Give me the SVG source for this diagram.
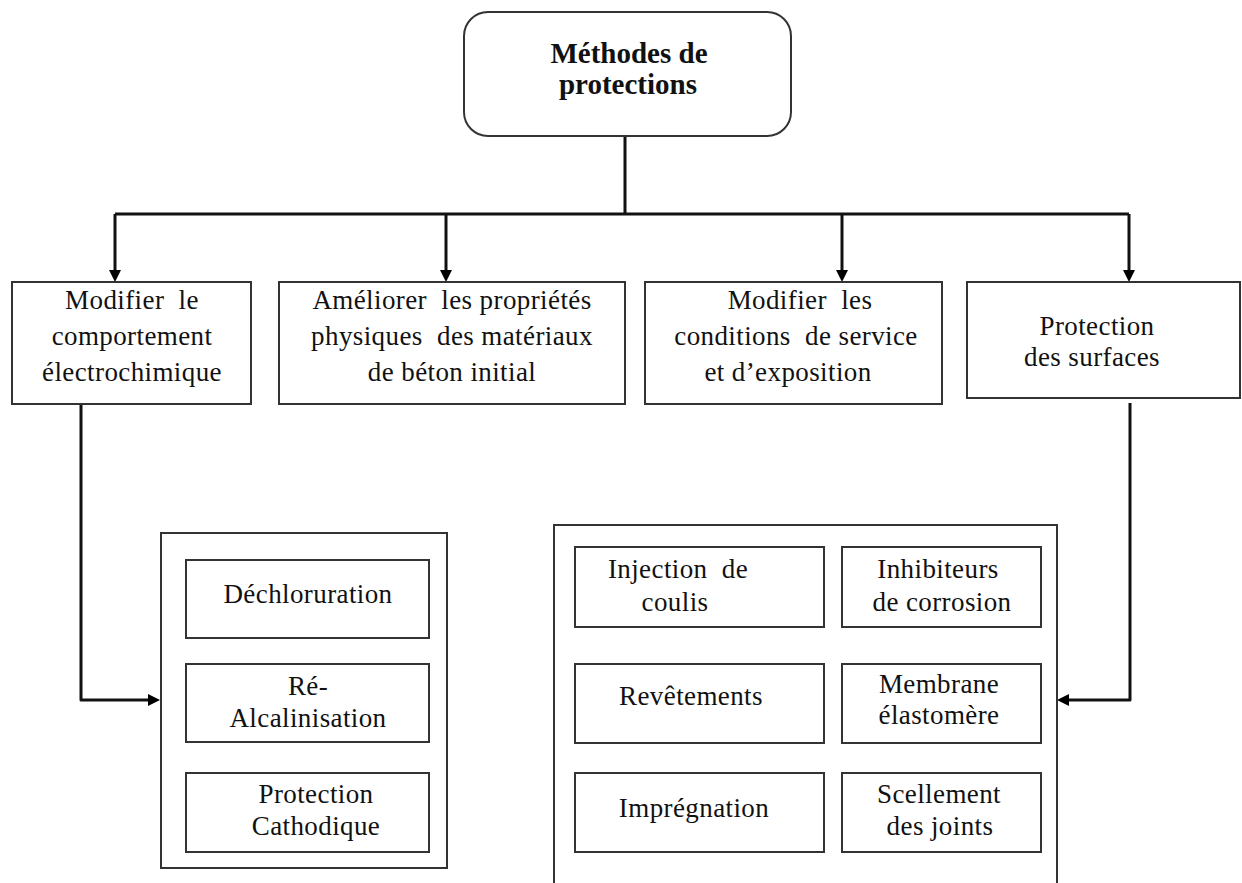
<svg xmlns="http://www.w3.org/2000/svg" width="1242" height="883" viewBox="0 0 1242 883">
  <defs>
    <marker id="arrow" viewBox="0 0 13 12" refX="6" refY="6" markerWidth="13" markerHeight="12" markerUnits="userSpaceOnUse" orient="auto">
      <path d="M0,0 L12,6 L0,12 Z" fill="#000"/>
    </marker>
    <style>
      .box { fill: #fff; stroke: #333; stroke-width: 2; }
      .wire { fill: none; stroke: #111; stroke-width: 3; stroke-linejoin: round; }
      .lbl { font-family: "Liberation Serif", "Times New Roman", serif; font-size: 27px; letter-spacing: 0.4px; fill: #111; text-anchor: middle; }
      .title { font-family: "Liberation Serif", "Times New Roman", serif; font-size: 29px; font-weight: bold; fill: #111; text-anchor: middle; }
    </style>
  </defs>
  <rect width="1242" height="883" fill="#fff"/>

  <!-- connectors -->
  <g id="connectors">
    <path class="wire" d="M625,136 V214"/>
    <path class="wire" d="M115,214 H1129"/>
    <path class="wire" d="M115,214 V276" marker-end="url(#arrow)"/>
    <path class="wire" d="M446,214 V276" marker-end="url(#arrow)"/>
    <path class="wire" d="M842,214 V276" marker-end="url(#arrow)"/>
    <path class="wire" d="M1129,214 V276" marker-end="url(#arrow)"/>
    <path class="wire" d="M81,404 V700 H154" marker-end="url(#arrow)"/>
    <path class="wire" d="M1130,403 V700 H1063" marker-end="url(#arrow)"/>
  </g>

  <!-- root -->
  <g id="root">
    <rect class="box" x="464" y="12" width="327" height="124" rx="24" ry="24"/>
    <text class="title" x="629" y="63">Méthodes de</text>
    <text class="title" x="628" y="94">protections</text>
  </g>

  <!-- first level -->
  <g id="electrochimique">
    <rect class="box" x="12" y="282" width="239" height="122"/>
    <text class="lbl" x="132" y="309" xml:space="preserve">Modifier  le</text>
    <text class="lbl" x="132" y="345">comportement</text>
    <text class="lbl" x="132" y="381">électrochimique</text>
  </g>
  <g id="proprietes">
    <rect class="box" x="279" y="282" width="346" height="122"/>
    <text class="lbl" x="452" y="309" xml:space="preserve">Améliorer  les propriétés</text>
    <text class="lbl" x="452" y="345" xml:space="preserve">physiques  des matériaux</text>
    <text class="lbl" x="452" y="381">de béton initial</text>
  </g>
  <g id="conditions">
    <rect class="box" x="645" y="282" width="297" height="122"/>
    <text class="lbl" x="800" y="309" xml:space="preserve">Modifier  les</text>
    <text class="lbl" x="796" y="345" xml:space="preserve">conditions  de service</text>
    <text class="lbl" x="788" y="381">et d’exposition</text>
  </g>
  <g id="surfaces">
    <rect class="box" x="967" y="282" width="273" height="116"/>
    <text class="lbl" x="1097" y="335">Protection</text>
    <text class="lbl" x="1092" y="366">des surfaces</text>
  </g>

  <!-- electrochemical methods -->
  <g id="groupe-electro">
    <rect class="box" x="161" y="533" width="286" height="335"/>
  </g>
  <g id="dechloruration">
    <rect class="box" x="186" y="560" width="243" height="78"/>
    <text class="lbl" x="308" y="603">Déchloruration</text>
  </g>
  <g id="realcalinisation">
    <rect class="box" x="186" y="664" width="243" height="78"/>
    <text class="lbl" x="308" y="695">Ré-</text>
    <text class="lbl" x="308" y="727">Alcalinisation</text>
  </g>
  <g id="cathodique">
    <rect class="box" x="186" y="773" width="243" height="79"/>
    <text class="lbl" x="316" y="803">Protection</text>
    <text class="lbl" x="316" y="835">Cathodique</text>
  </g>

  <!-- surface methods -->
  <g id="groupe-surfaces">
    <rect class="box" x="554" y="525" width="503" height="370"/>
  </g>
  <g id="injection">
    <rect class="box" x="575" y="547" width="249" height="80"/>
    <text class="lbl" x="678" y="578" xml:space="preserve">Injection  de</text>
    <text class="lbl" x="675" y="611">coulis</text>
  </g>
  <g id="inhibiteurs">
    <rect class="box" x="842" y="547" width="199" height="80"/>
    <text class="lbl" x="938" y="578">Inhibiteurs</text>
    <text class="lbl" x="942" y="611">de corrosion</text>
  </g>
  <g id="revetements">
    <rect class="box" x="575" y="664" width="249" height="79"/>
    <text class="lbl" x="691" y="705">Revêtements</text>
  </g>
  <g id="membrane">
    <rect class="box" x="842" y="664" width="199" height="79"/>
    <text class="lbl" x="939" y="693">Membrane</text>
    <text class="lbl" x="939" y="724">élastomère</text>
  </g>
  <g id="impregnation">
    <rect class="box" x="575" y="773" width="249" height="79"/>
    <text class="lbl" x="694" y="817">Imprégnation</text>
  </g>
  <g id="scellement">
    <rect class="box" x="842" y="773" width="199" height="79"/>
    <text class="lbl" x="939" y="803">Scellement</text>
    <text class="lbl" x="940" y="835">des joints</text>
  </g>
</svg>
